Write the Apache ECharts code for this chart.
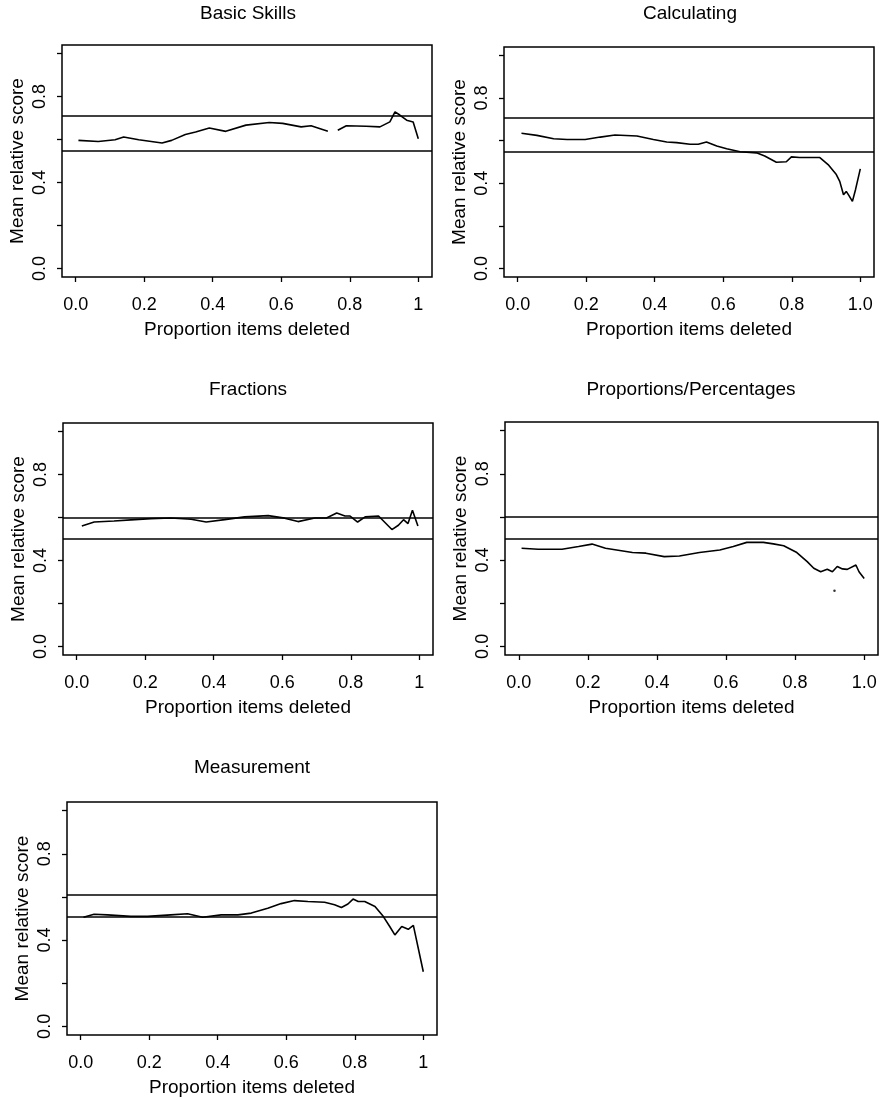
<!DOCTYPE html>
<html><head><meta charset="utf-8">
<script src="https://cdn.jsdelivr.net/npm/echarts@6/dist/echarts.min.js"></script>
<style>html,body{margin:0;padding:0;background:#fff}#c{width:884px;height:1100px}</style>
</head><body><div id="c"></div>
<script>
// ---- tick values / labels ----
const xTickValues = [0, 0.2, 0.4, 0.6, 0.8, 1.0];
const xTickLabelsShort = ['0.0', '0.2', '0.4', '0.6', '0.8', '1'];
const xTickLabelsLong = ['0.0', '0.2', '0.4', '0.6', '0.8', '1.0'];
const yTickValues = [0, 0.2, 0.4, 0.6, 0.8, 1.0];
const yLabelValues = [0, 0.4, 0.8];
const yLabels = ['0.0', '0.4', '0.8'];

const panelTitles = ['Basic Skills', 'Calculating', 'Fractions', 'Proportions/Percentages', 'Measurement'];
const xAxisTitle = 'Proportion items deleted';
const yAxisTitle = 'Mean relative score';

// ---- reference lines (upper, lower) ----
const basicRef = [0.706, 0.549];
const calcRef = [0.707, 0.551];
const fracRef = [0.603, 0.502];
const propRef = [0.603, 0.500];
const measRef = [0.606, 0.505];

// ---- series values ----
const basicX = [0.008, 0.066, 0.115, 0.14, 0.184, 0.252, 0.28, 0.32, 0.35, 0.39, 0.438, 0.497, 0.565, 0.604, 0.658, 0.687, 0.736, 0.75, 0.765, 0.79, 0.848, 0.888, 0.917, 0.932, 0.946, 0.966, 0.985, 1.0];
const basicY = [0.596, 0.591, 0.599, 0.612, 0.599, 0.584, 0.596, 0.623, 0.635, 0.654, 0.638, 0.667, 0.679, 0.675, 0.659, 0.664, 0.638, null, 0.643, 0.664, 0.662, 0.659, 0.682, 0.729, 0.714, 0.69, 0.682, 0.604];

const calcX = [0.011, 0.056, 0.105, 0.144, 0.197, 0.241, 0.284, 0.348, 0.396, 0.435, 0.464, 0.503, 0.527, 0.551, 0.581, 0.61, 0.649, 0.697, 0.721, 0.755, 0.784, 0.799, 0.823, 0.882, 0.906, 0.93, 0.94, 0.951, 0.959, 0.967, 0.977, 0.986, 1.0];
const calcY = [0.635, 0.625, 0.609, 0.606, 0.606, 0.617, 0.627, 0.622, 0.606, 0.594, 0.591, 0.583, 0.583, 0.594, 0.575, 0.562, 0.548, 0.543, 0.528, 0.499, 0.501, 0.524, 0.521, 0.521, 0.488, 0.441, 0.409, 0.346, 0.362, 0.342, 0.315, 0.37, 0.468];

const fracX = [0.015, 0.051, 0.109, 0.158, 0.217, 0.275, 0.334, 0.378, 0.432, 0.49, 0.559, 0.607, 0.646, 0.695, 0.729, 0.759, 0.783, 0.798, 0.82, 0.842, 0.881, 0.92, 0.939, 0.954, 0.967, 0.98, 0.996];
const fracY = [0.561, 0.579, 0.584, 0.589, 0.595, 0.598, 0.592, 0.579, 0.59, 0.603, 0.609, 0.597, 0.581, 0.598, 0.598, 0.621, 0.607, 0.607, 0.579, 0.603, 0.607, 0.544, 0.564, 0.59, 0.572, 0.634, 0.561];

const propX = [0.008, 0.056, 0.125, 0.173, 0.212, 0.251, 0.329, 0.368, 0.421, 0.465, 0.523, 0.582, 0.621, 0.66, 0.708, 0.737, 0.767, 0.805, 0.835, 0.854, 0.874, 0.893, 0.908, 0.922, 0.937, 0.951, 0.976, 0.985, 1.0];
const propY = [0.455, 0.45, 0.45, 0.463, 0.474, 0.455, 0.435, 0.432, 0.416, 0.419, 0.435, 0.447, 0.463, 0.482, 0.482, 0.475, 0.466, 0.435, 0.393, 0.362, 0.346, 0.357, 0.346, 0.37, 0.359, 0.357, 0.377, 0.346, 0.315];
const propDotX = [0.914];
const propDotY = [0.258];

const measX = [0.008, 0.039, 0.078, 0.146, 0.195, 0.263, 0.312, 0.356, 0.41, 0.459, 0.498, 0.546, 0.585, 0.624, 0.663, 0.712, 0.741, 0.761, 0.78, 0.795, 0.81, 0.829, 0.859, 0.883, 0.902, 0.917, 0.937, 0.956, 0.971, 1.0];
const measY = [0.506, 0.52, 0.517, 0.51, 0.51, 0.517, 0.522, 0.506, 0.517, 0.517, 0.525, 0.548, 0.569, 0.583, 0.579, 0.575, 0.564, 0.551, 0.567, 0.59, 0.579, 0.579, 0.556, 0.51, 0.463, 0.424, 0.463, 0.45, 0.468, 0.253];

// ---- layout (plot boxes) ----
const boxes = [
  {left: 62, top: 45, width: 370, height: 232, cx: 248, ty: 14},
  {left: 504, top: 47, width: 370, height: 230, cx: 690, ty: 14},
  {left: 63, top: 423, width: 370, height: 232, cx: 248, ty: 390},
  {left: 505, top: 422, width: 373, height: 233, cx: 691, ty: 390},
  {left: 67, top: 802, width: 370, height: 233, cx: 252, ty: 768}
];
const panels = [
  {x: basicX, y: basicY, ref: basicRef, xl: xTickLabelsShort},
  {x: calcX, y: calcY, ref: calcRef, xl: xTickLabelsLong},
  {x: fracX, y: fracY, ref: fracRef, xl: xTickLabelsShort},
  {x: propX, y: propY, ref: propRef, xl: xTickLabelsLong, dotX: propDotX, dotY: propDotY},
  {x: measX, y: measY, ref: measRef, xl: xTickLabelsShort}
];

const FONT = 'Liberation Sans, Arial, Helvetica, sans-serif';
const zip = (a, b) => a.map((v, i) => [v, b[i]]);
function labelFor(values, labels) {
  return function (v) {
    let best = 0;
    for (let i = 1; i < values.length; i++) if (Math.abs(values[i] - v) < Math.abs(values[best] - v)) best = i;
    return labels[best];
  };
}

const grid = [], xAxis = [], yAxis = [], series = [], graphic = [];
panels.forEach((p, i) => {
  const b = boxes[i];
  grid.push({left: b.left, top: b.top, width: b.width, height: b.height, show: true, borderColor: '#000', borderWidth: 1.5, backgroundColor: 'transparent', containLabel: false});
  xAxis.push({
    type: 'value', gridIndex: i, min: -0.04, max: 1.04, position: 'bottom',
    splitLine: {show: false}, axisLine: {show: false, onZero: false},
    axisTick: {show: true, inside: false, length: 5, lineStyle: {color: '#000', width: 1.3}, customValues: xTickValues},
    axisLabel: {customValues: xTickValues, formatter: labelFor(xTickValues, p.xl), color: '#000', fontSize: 18, fontFamily: FONT, margin: 19},
    name: xAxisTitle, nameLocation: 'middle', nameGap: 43,
    nameTextStyle: {color: '#000', fontSize: 19, fontFamily: FONT}
  });
  yAxis.push({
    type: 'value', gridIndex: i, min: -0.04, max: 1.04, position: 'left',
    splitLine: {show: false}, axisLine: {show: false, onZero: false},
    axisTick: {show: true, inside: false, length: 5, lineStyle: {color: '#000', width: 1.3}, customValues: yTickValues},
    axisLabel: {customValues: yLabelValues, formatter: labelFor(yLabelValues, yLabels), rotate: 90, color: '#000', fontSize: 18, fontFamily: FONT, margin: 13},
    name: yAxisTitle, nameLocation: 'middle', nameGap: 35,
    nameTextStyle: {color: '#000', fontSize: 19, fontFamily: FONT}
  });
  series.push({
    type: 'line', xAxisIndex: i, yAxisIndex: i, data: zip(p.x, p.y),
    showSymbol: false, symbol: 'none', connectNulls: false, silent: true, animation: false,
    lineStyle: {color: '#000', width: 1.6},
    markLine: {
      silent: true, symbol: 'none', animation: false, label: {show: false},
      lineStyle: {color: '#000', width: 1.7, type: 'solid'},
      data: p.ref.map(v => ({yAxis: v}))
    }
  });
  if (p.dotX) {
    series.push({
      type: 'scatter', xAxisIndex: i, yAxisIndex: i, data: zip(p.dotX, p.dotY),
      symbol: 'circle', symbolSize: 2.5, itemStyle: {color: '#000'}, silent: true, animation: false
    });
  }
  graphic.push({
    type: 'text', x: b.cx, y: b.ty,
    style: {text: panelTitles[i], fill: '#000', font: '19px ' + FONT, textAlign: 'center', textVerticalAlign: 'middle'}
  });
});

const chart = echarts.init(document.getElementById('c'), null, {renderer: 'canvas'});
chart.setOption({animation: false, backgroundColor: '#fff', grid, xAxis, yAxis, series, graphic});
</script></body></html>
